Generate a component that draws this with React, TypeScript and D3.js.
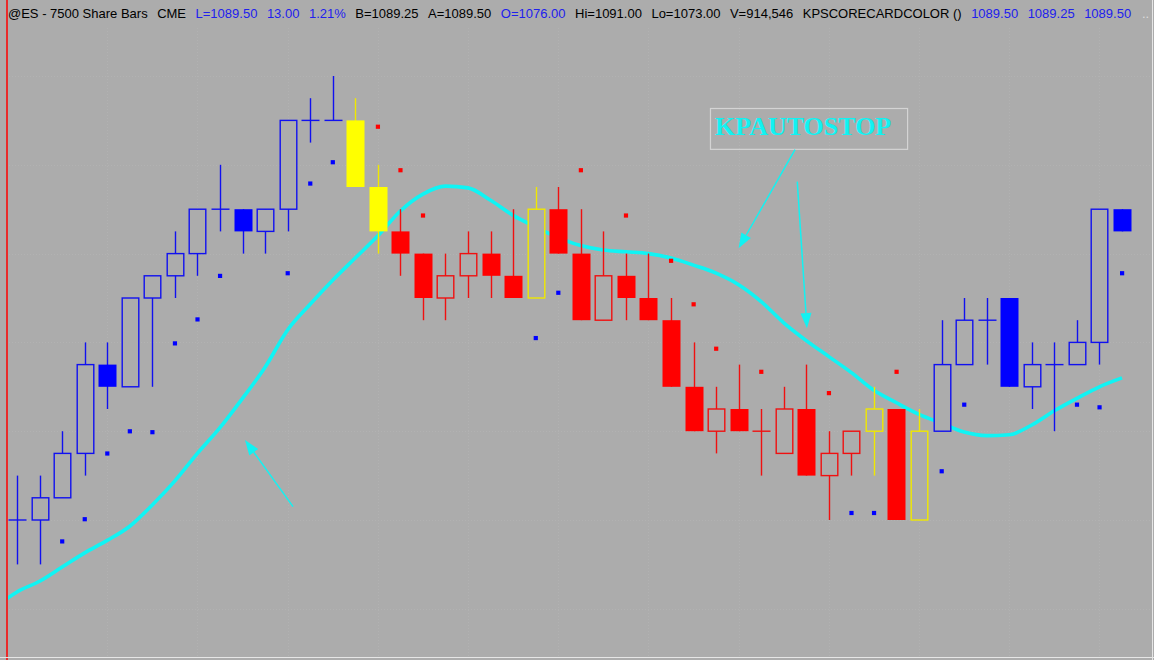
import React, { useEffect, useRef } from 'react';
import * as d3 from 'd3';

// ---- chart data ----
const opens = [1086.0, 1086.0, 1086.25, 1086.75, 1087.75, 1087.5, 1088.5, 1088.75, 1089.0, 1089.5,
  1089.5, 1089.25, 1089.5, 1090.5, 1090.5, 1090.5, 1089.75, 1089.25, 1089.0, 1088.5,
  1088.75, 1089.0, 1088.75, 1088.5, 1089.5, 1089.0, 1088.25, 1088.75, 1088.5, 1088.25,
  1087.5, 1087.0, 1087.25, 1087.0, 1086.75, 1087.25, 1086.5, 1086.75, 1087.0, 1087.25,
  1086.0, 1087.0, 1087.75, 1088.25, 1088.5, 1087.5, 1087.75, 1087.75, 1088.0, 1089.5];
const highs = [1086.5, 1086.5, 1087.0, 1088.0, 1088.0, 1088.5, 1088.75, 1089.25, 1089.5, 1090.0,
  1089.5, 1089.5, 1090.5, 1090.75, 1091.0, 1090.75, 1090.0, 1089.5, 1089.0, 1089.0,
  1089.25, 1089.25, 1089.5, 1089.75, 1089.75, 1089.5, 1089.25, 1089.0, 1089.0, 1088.5,
  1088.0, 1087.5, 1087.75, 1087.25, 1087.5, 1087.75, 1087.0, 1087.0, 1087.5, 1087.25,
  1087.25, 1088.25, 1088.5, 1088.5, 1088.5, 1088.0, 1088.0, 1088.25, 1089.5, 1089.5];
const lows = [1085.5, 1085.5, 1086.25, 1086.5, 1087.25, 1087.5, 1087.5, 1088.5, 1088.75, 1089.25,
  1089.0, 1089.0, 1089.25, 1090.25, 1090.5, 1089.75, 1089.0, 1088.75, 1088.25, 1088.25,
  1088.5, 1088.5, 1088.5, 1088.5, 1089.0, 1088.25, 1088.25, 1088.25, 1088.25, 1087.5,
  1087.0, 1086.75, 1087.0, 1086.5, 1086.75, 1086.5, 1086.0, 1086.5, 1086.5, 1086.0,
  1086.0, 1087.0, 1087.75, 1087.75, 1087.5, 1087.25, 1087.0, 1087.75, 1087.75, 1089.25];
const closes = [1086.0, 1086.25, 1086.75, 1087.75, 1087.5, 1088.5, 1088.75, 1089.0, 1089.5, 1089.5,
  1089.25, 1089.5, 1090.5, 1090.5, 1090.5, 1089.75, 1089.25, 1089.0, 1088.5, 1088.75,
  1089.0, 1088.75, 1088.5, 1089.5, 1089.0, 1088.25, 1088.75, 1088.5, 1088.25, 1087.5,
  1087.0, 1087.25, 1087.0, 1087.0, 1087.25, 1086.5, 1086.75, 1087.0, 1087.25, 1086.0,
  1087.0, 1087.75, 1088.25, 1088.25, 1087.5, 1087.75, 1087.75, 1088.0, 1089.5, 1089.25];
// scorecard colour per bar: B = blue, Y = yellow, R = red
const barColors = 'BBBBBBBBBBBBBBBYYRRRRRRYRRRRRRRRRRRRRRYRYBBBBBBBBB'.split('');

// stop dots: bar index, price, side
const stopBars = [2, 3, 4, 5, 6, 7, 8, 9, 12, 13, 14, 16, 17, 18, 23, 24, 25, 27, 29, 30,
  31, 33, 36, 37, 38, 39, 41, 42, 47, 48, 49];
const stopPrices = [1085.76, 1086.01, 1086.75, 1087.0, 1086.99, 1087.99, 1088.26, 1088.75, 1088.78, 1089.79,
  1090.03, 1090.43, 1089.94, 1089.43, 1088.05, 1088.56, 1089.94, 1089.43, 1088.92, 1088.43,
  1087.93, 1087.67, 1087.43, 1086.08, 1086.08, 1087.67, 1086.55, 1087.3, 1087.3, 1087.27, 1088.78];
const stopColors = 'BBBBBBBBBBBRRRBBRRRRRRRBBRBBBBB'.split('');

// KPAUTOSTOP line, first value belongs to the bar before the visible window
const autoStopStart = -1;
const autoStop = [1085.01, 1085.19, 1085.31, 1085.47, 1085.63, 1085.77, 1085.93, 1086.17, 1086.44, 1086.75,
  1087.04, 1087.37, 1087.72, 1088.14, 1088.43, 1088.7, 1088.95, 1089.2, 1089.48, 1089.67,
  1089.76, 1089.74, 1089.6, 1089.43, 1089.3, 1089.18, 1089.09, 1089.04, 1089.02, 1089.0,
  1088.95, 1088.87, 1088.78, 1088.65, 1088.46, 1088.22, 1088.02, 1087.84, 1087.66, 1087.46,
  1087.32, 1087.19, 1087.09, 1086.99, 1086.95, 1086.96, 1087.07, 1087.23, 1087.37, 1087.5, 1087.6];

// status line pieces
const headerParts = [
  { text: '@ES - 7500 Share Bars', blue: false },
  { text: 'CME', blue: false },
  { text: 'L=1089.50', blue: true },
  { text: '13.00', blue: true },
  { text: '1.21%', blue: true },
  { text: 'B=1089.25', blue: false },
  { text: 'A=1089.50', blue: false },
  { text: 'O=1076.00', blue: true },
  { text: 'Hi=1091.00', blue: false },
  { text: 'Lo=1073.00', blue: false },
  { text: 'V=914,546', blue: false },
  { text: 'KPSCORECARDCOLOR ()', blue: false },
  { text: '1089.50', blue: true },
  { text: '1089.25', blue: true },
  { text: '1089.50', blue: true },
];

// annotation arrows in (bar index, price) space
const arrows = [
  { from: [34.5, 1090.17], to: [32.0, 1089.06] },
  { from: [34.6, 1089.81], to: [35.03, 1088.16] },
  { from: [12.24, 1086.15], to: [10.11, 1086.9] },
];

const App: React.FC = () => {
  const svgRef = useRef<SVGSVGElement>(null);

  useEffect(() => {
    if (!svgRef.current) return;
    document.body.style.margin = '0';
    d3.select(svgRef.current).selectAll('*').remove();

    const width = 1154;
    const height = 660;
    const bg = '#acacac';
    const colorMap: Record<string, string> = { B: '#0000ff', R: '#ff0000', Y: '#ffff00' };
    const hollowMap: Record<string, string> = { B: '#1010f0', R: '#f01010', Y: '#f0e800' };
    const bodyWidth = 18;

    const x = d3.scaleLinear().domain([0, opens.length - 1]).range([17, 1122]);
    const y = d3.scaleLinear().domain([1091, 1085.5]).range([76, 564.4]);

    const svg = d3.select(svgRef.current)
      .attr('width', width)
      .attr('height', height);

    svg.append('rect').attr('width', width).attr('height', height).attr('fill', bg);

    svg.append('defs').append('clipPath').attr('id', 'plot')
      .append('rect').attr('x', 8).attr('y', 0).attr('width', width - 10).attr('height', height - 3);

    // faint dotted grid
    const grid = svg.append('g').attr('stroke', '#b2b2b2').attr('stroke-width', 1)
      .attr('stroke-dasharray', '1,2');
    d3.range(4, opens.length, 4).forEach(i => {
      grid.append('line').attr('x1', Math.round(x(i)) + 0.5).attr('x2', Math.round(x(i)) + 0.5)
        .attr('y1', 28).attr('y2', height - 4);
    });
    d3.range(1091, 1084.5, -1).forEach(p => {
      grid.append('line').attr('x1', 9).attr('x2', width - 3)
        .attr('y1', Math.round(y(p)) + 0.5).attr('y2', Math.round(y(p)) + 0.5);
    });

    const plot = svg.append('g').attr('clip-path', 'url(#plot)');

    // autostop line
    const line = d3.line<number>()
      .x((_, i) => x(i + autoStopStart))
      .y(d => y(d))
      .curve(d3.curveMonotoneX);
    plot.append('path')
      .attr('d', line(autoStop))
      .attr('fill', 'none')
      .attr('stroke', '#10f4f4')
      .attr('stroke-width', 3.6)
      .attr('stroke-linejoin', 'round');

    // candles
    opens.forEach((o, i) => {
      const c = closes[i];
      const cx = Math.round(x(i)) + 0.5;
      const col = barColors[i];
      const top = y(Math.max(o, c));
      const bot = y(Math.min(o, c));
      const g = plot.append('g');
      g.append('line')
        .attr('x1', cx).attr('x2', cx)
        .attr('y1', y(highs[i])).attr('y2', y(lows[i]))
        .attr('stroke', hollowMap[col]).attr('stroke-width', 1.4);
      if (o === c) {
        g.append('line')
          .attr('x1', cx - bodyWidth / 2).attr('x2', cx + bodyWidth / 2)
          .attr('y1', top).attr('y2', top)
          .attr('stroke', hollowMap[col]).attr('stroke-width', 1.4);
      } else if (c < o) {
        g.append('rect')
          .attr('x', cx - bodyWidth / 2).attr('y', top)
          .attr('width', bodyWidth).attr('height', bot - top)
          .attr('fill', colorMap[col]);
      } else {
        g.append('rect')
          .attr('x', cx - bodyWidth / 2 + 0.7).attr('y', top)
          .attr('width', bodyWidth - 1.4).attr('height', bot - top)
          .attr('fill', bg)
          .attr('stroke', hollowMap[col]).attr('stroke-width', 1.4);
      }
    });

    // stop dots
    stopBars.forEach((b, i) => {
      plot.append('rect')
        .attr('x', x(b) - 2).attr('y', y(stopPrices[i]) - 2)
        .attr('width', 4.2).attr('height', 4.2)
        .attr('fill', colorMap[stopColors[i]]);
    });

    // annotation
    const ann = svg.append('g');
    ann.append('rect')
      .attr('x', x(30.73) + 0.5).attr('y', Math.round(y(1090.64)) + 0.5)
      .attr('width', x(39.47) - x(30.73)).attr('height', y(1090.18) - y(1090.64))
      .attr('fill', 'none').attr('stroke', '#d4d4d4').attr('stroke-width', 1.2);
    ann.append('text')
      .attr('x', x(30.73) + 5).attr('y', y(1090.34))
      .attr('font-family', '"Liberation Serif", "Times New Roman", serif')
      .attr('font-weight', 'bold').attr('font-size', 26)
      .attr('fill', '#12f2f2')
      .text('KPAUTOSTOP');

    arrows.forEach(a => {
      const x1 = x(a.from[0]); const y1 = y(a.from[1]);
      const x2 = x(a.to[0]); const y2 = y(a.to[1]);
      const ang = Math.atan2(y2 - y1, x2 - x1);
      const len = 15; const hw = 5.5;
      const bx = x2 - len * Math.cos(ang); const by = y2 - len * Math.sin(ang);
      ann.append('line')
        .attr('x1', x1).attr('y1', y1).attr('x2', bx).attr('y2', by)
        .attr('stroke', '#12f2f2').attr('stroke-width', 1.5);
      ann.append('path')
        .attr('d', `M${x2},${y2}L${bx - hw * Math.sin(ang)},${by + hw * Math.cos(ang)}` +
          `L${bx + hw * Math.sin(ang)},${by - hw * Math.cos(ang)}Z`)
        .attr('fill', '#12f2f2');
    });

    // header line
    const header = svg.append('text')
      .attr('x', 8).attr('y', 18)
      .attr('font-family', '"Liberation Sans", Arial, sans-serif')
      .attr('font-size', 13);
    headerParts.forEach((p, i) => {
      header.append('tspan')
        .attr('dx', i === 0 ? 0 : 9.5)
        .attr('fill', p.blue ? '#2020ee' : '#000')
        .text(p.text);
    });
    svg.append('text').attr('x', 1142).attr('y', 18)
      .attr('font-family', '"Liberation Sans", Arial, sans-serif').attr('font-size', 13)
      .attr('fill', '#dcdcdc').text('..');

    // left edge marker and frame
    svg.append('line').attr('x1', 7).attr('x2', 7).attr('y1', 0).attr('y2', height)
      .attr('stroke', '#ff0000').attr('stroke-width', 1.5);
    svg.append('line').attr('x1', 0).attr('x2', width).attr('y1', height - 2.5).attr('y2', height - 2.5)
      .attr('stroke', '#e6e6e6').attr('stroke-width', 1);
    svg.append('line').attr('x1', width - 1.5).attr('x2', width - 1.5).attr('y1', 0).attr('y2', height)
      .attr('stroke', '#e6e6e6').attr('stroke-width', 1);
  }, []);

  return (
    <div style={{ position: 'absolute', left: 0, top: 0 }}>
      <svg ref={svgRef} style={{ display: 'block' }}></svg>
    </div>
  );
};

export default App;
